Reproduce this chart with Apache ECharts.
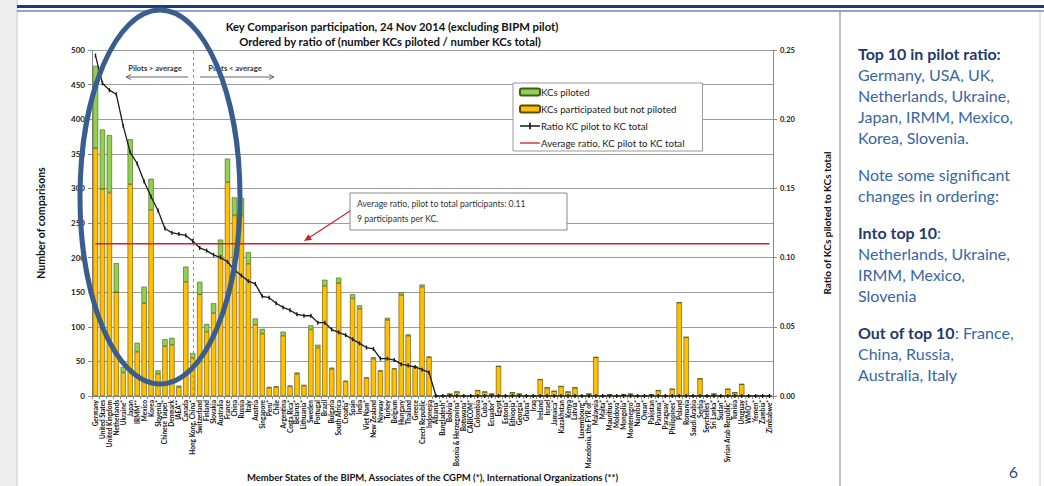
<!DOCTYPE html>
<html><head><meta charset="utf-8">
<script src="https://cdn.jsdelivr.net/npm/echarts@6/dist/echarts.min.js"></script>
<style>html,body{margin:0;padding:0;background:#fff;}#c{width:1044px;height:486px;}</style>
</head><body><div id="c"></div>
<script>
const categories = ["Germany","United States","United Kingdom","Netherlands","Ukraine*","Japan","IRMM**","Mexico","Korea","Slovenia*","Chinese Taipei*","Denmark","IAEA**","Canada","Hong Kong, China*","Switzerland","Finland","Slovakia","Australia","France","China","Russia","Italy","Austria","Singapore","Peru*","Chile","Argentina","Costa Rica*","Belarus*","Lithuania*","Sweden","Portugal","Brazil","Bulgaria","South Africa","Croatia*","Spain","India","Viet Nam*","New Zealand","Norway","Turkey","Belgium","Hungary","Thailand","Greece","Czech Republic","Indonesia","Albania*","Bangladesh*","Bolivia*","Bosnia & Herzegovina*","Botswana*","CARICOM*","Colombia","Cuba*","Ecuador*","Egypt","Estonia*","Ethiopia*","Georgia*","Ghana*","Iraq","Ireland","Israel","Jamaica*","Kazakhstan","Kenya","Latvia*","Luxembourg*","Macedonia, the FYR of*","Malaysia","Malta*","Mauritius*","Moldova*","Mongolia*","Montenegro*","Namibia*","Oman*","Pakistan","Panama*","Paraguay*","Philippines*","Poland","Romania","Saudi Arabia","Serbia","Seychelles*","Sri Lanka*","Sudan*","Syrian Arab Republic*","Tunisia","Uruguay","WMO**","Yemen*","Zambia*","Zimbabwe*"];

const participatedNotPiloted = [358,299,294,150,34,306,64,134,269,32,72,74,13,165,55,147,93,120,203,309,261,261,191,103,90,12,13,87,14,32,15,96,70,159,39,163,21,141,126,26,54,36,110,39,146,87,42,158,56,0,0,3,6,0,0,8,6,3,43,0,5,3,0,0,24,12,7,14,6,12,0,3,56,0,2,0,2,3,0,0,2,8,0,10,135,85,0,25,0,3,0,10,5,17,0,0,0,0];

const piloted = [119,86,83,42,8,65,13,24,45,5,10,10,2,22,7,18,11,14,23,34,26,25,17,9,7,1,1,6,1,2,1,6,4,9,2,8,1,6,5,1,2,1,3,1,4,2,1,3,1,0,0,0,0,0,0,0,0,0,0,0,0,0,0,0,0,0,0,0,0,0,0,0,0,0,0,0,0,0,0,0,0,0,0,0,0,0,0,0,0,0,0,0,0,0,0,0,0,0];

const ratioPilotToTotal = [0.246,0.226,0.221,0.218,0.195,0.176,0.168,0.155,0.144,0.134,0.121,0.118,0.117,0.116,0.112,0.107,0.105,0.102,0.100,0.097,0.091,0.087,0.083,0.081,0.072,0.071,0.067,0.064,0.062,0.059,0.058,0.058,0.053,0.053,0.048,0.046,0.044,0.041,0.038,0.035,0.034,0.027,0.027,0.026,0.023,0.022,0.021,0.019,0.017,0,0,0,0,0,0,0,0,0,0,0,0,0,0,0,0,0,0,0,0,0,0,0,0,0,0,0,0,0,0,0,0,0,0,0,0,0,0,0,0,0,0,0,0,0,0,0,0,0];

const averageRatio = 0.11;
const boundaryCategory = "Hong Kong, China*";
const leftAxis = {min: 0, max: 500, interval: 50};
const rightAxis = {min: 0, max: 0.25, interval: 0.05};

const F = 'Lato, "Liberation Sans", sans-serif';
const chart = echarts.init(document.getElementById('c'), null, {renderer: 'svg'});

const bodyBlue = '#3766a6', headBlue = '#1f3a6b';
const panelLines = [
  {t: '{b|Top 10 in pilot ratio:}', y: 53},
  {t: 'Germany, USA, UK,', y: 74},
  {t: 'Netherlands, Ukraine,', y: 95},
  {t: 'Japan, IRMM, Mexico,', y: 116},
  {t: 'Korea, Slovenia.', y: 137},
  {t: 'Note some significant', y: 174},
  {t: 'changes in ordering:', y: 195},
  {t: '{b|Into top 10}:', y: 232},
  {t: 'Netherlands, Ukraine,', y: 253},
  {t: 'IRMM, Mexico,', y: 274},
  {t: 'Slovenia', y: 295},
  {t: '{b|Out of top 10}: France,', y: 332},
  {t: 'China, Russia,', y: 353},
  {t: 'Australia, Italy', y: 374}
];

const graphics = [
  {type: 'rect', shape: {x: 0, y: 0, width: 17, height: 486}, style: {fill: '#eeeeee'}, silent: true, z: -5},
  {type: 'line', shape: {x1: 17, y1: 0, x2: 17, y2: 486}, style: {stroke: '#c8c8c8', lineWidth: 1}, silent: true},
  {type: 'rect', shape: {x: 17, y: 5, width: 1027, height: 3}, style: {fill: '#1f3a78'}, silent: true},
  {type: 'line', shape: {x1: 17, y1: 11, x2: 1044, y2: 11}, style: {stroke: '#2c4a8c', lineWidth: 1}, silent: true},
  {type: 'line', shape: {x1: 840, y1: 12, x2: 840, y2: 486}, style: {stroke: '#a8a8a8', lineWidth: 1.5}, silent: true},
  {type: 'line', shape: {x1: 1040, y1: 12, x2: 1040, y2: 486}, style: {stroke: '#c8c8c8', lineWidth: 1}, silent: true},
  {type: 'text', x: 392, y: 26, style: {text: 'Key Comparison participation, 24 Nov 2014 (excluding BIPM pilot)', font: 'bold 11.3px ' + F, fill: '#111', align: 'center', verticalAlign: 'middle'}},
  {type: 'text', x: 390, y: 41.5, style: {text: 'Ordered by ratio of (number KCs piloted / number KCs total)', font: 'bold 11.3px ' + F, fill: '#111', align: 'center', verticalAlign: 'middle'}},
  {type: 'text', x: 155, y: 68, style: {text: 'Pilots > average', font: 'bold 7.6px ' + F, fill: '#333', align: 'center', verticalAlign: 'middle'}},
  {type: 'text', x: 235, y: 68, style: {text: 'Pilots < average', font: 'bold 7.6px ' + F, fill: '#333', align: 'center', verticalAlign: 'middle'}},
  {type: 'line', shape: {x1: 188, y1: 77, x2: 126, y2: 77}, style: {stroke: '#666', lineWidth: 1}},
  {type: 'polyline', shape: {points: [[131, 74.5], [126, 77], [131, 79.5]]}, style: {stroke: '#666', lineWidth: 1, fill: null}},
  {type: 'line', shape: {x1: 200, y1: 77, x2: 274, y2: 77}, style: {stroke: '#666', lineWidth: 1}},
  {type: 'polyline', shape: {points: [[269, 74.5], [274, 77], [269, 79.5]]}, style: {stroke: '#666', lineWidth: 1, fill: null}},
  {type: 'rect', shape: {x: 350, y: 193, width: 217, height: 37}, style: {fill: '#fff', stroke: '#8a8a8a', lineWidth: 1}, z: 50},
  {type: 'text', x: 357, y: 203.5, style: {text: 'Average ratio, pilot to total participants: 0.11', font: '8.6px ' + F, fill: '#333', verticalAlign: 'middle'}, z: 51},
  {type: 'text', x: 357, y: 218.5, style: {text: '9 participants per KC.', font: '8.6px ' + F, fill: '#333', verticalAlign: 'middle'}, z: 51},
  {type: 'line', shape: {x1: 350, y1: 211, x2: 309, y2: 237.8}, style: {stroke: '#c0262b', lineWidth: 1.2}, z: 50},
  {type: 'polygon', shape: {points: [[304, 241], [312, 239.8], [308.4, 234.2]]}, style: {fill: '#c0262b'}, z: 50},
  {type: 'ellipse', shape: {cx: 160, cy: 197, rx: 80, ry: 187}, style: {stroke: '#3a5d8f', lineWidth: 5, fill: null}, z: 100, silent: true},
  {type: 'text', x: 1018, y: 471, style: {text: '6', font: '16px ' + F, fill: '#2f4f80', align: 'right', verticalAlign: 'middle'}}
];
panelLines.forEach(p => graphics.push({
  type: 'text', x: 858, y: p.y,
  style: {text: p.t, font: '16px ' + F, fill: bodyBlue, verticalAlign: 'middle',
          rich: {b: {fontWeight: 'bold', fontSize: 16, fontFamily: F, fill: headBlue}}}
}));

const option = {
  animation: false,
  backgroundColor: '#fff',
  textStyle: {fontFamily: F},
  grid: {left: 92, right: 271, top: 50, bottom: 90, containLabel: false, outerBoundsMode: 'none'},
  legend: {
    orient: 'vertical', left: 513, top: 83,
    data: [
      {name: 'KCs piloted'},
      {name: 'KCs participated but not piloted'},
      {name: 'Ratio KC pilot to KC total', icon: 'path://M0,6.2H24V7.8H0Z M11,3H13V11H11Z', itemStyle: {color: '#1a1a1a'}},
      {name: 'Average ratio, KC pilot to KC total', icon: 'path://M0,6.2H24V7.8H0Z', itemStyle: {color: '#d0202a'}}
    ],
    itemWidth: 20, itemHeight: 7, itemGap: 7,
    padding: [4, 18, 3, 6],
    backgroundColor: '#fff', borderColor: '#999', borderWidth: 1,
    textStyle: {fontSize: 9.7, color: '#222', fontFamily: F, padding: [0, 0, 0, -4]},
    z: 60
  },
  xAxis: {
    type: 'category', data: categories,
    axisLine: {lineStyle: {color: '#8a8a8a'}},
    axisTick: {show: true, length: 3, lineStyle: {color: '#8a8a8a'}},
    axisLabel: {interval: 0, rotate: 90, fontSize: 6.5, fontWeight: 'bold', color: '#111', margin: 4, fontFamily: F},
    name: 'Member States of the BIPM, Associates of the CGPM (*), International Organizations (**)',
    nameLocation: 'middle', nameGap: 76, nameMoveOverlap: false,
    nameTextStyle: {fontSize: 9.5, fontWeight: 'bold', color: '#111', fontFamily: F}
  },
  yAxis: [
    {type: 'value', min: leftAxis.min, max: leftAxis.max, interval: leftAxis.interval,
     axisLine: {show: true, lineStyle: {color: '#8a8a8a'}},
     axisTick: {show: true, length: 4, lineStyle: {color: '#8a8a8a'}},
     axisLabel: {fontSize: 8, fontWeight: 'bold', color: '#222', margin: 7},
     splitLine: {lineStyle: {color: '#9c9c9c', width: 1}},
     name: 'Number of comparisons', nameLocation: 'middle', nameGap: 46, nameRotate: 90, nameMoveOverlap: false,
     nameTextStyle: {fontSize: 10.5, fontWeight: 'bold', color: '#111'}},
    {type: 'value', min: rightAxis.min, max: rightAxis.max, interval: rightAxis.interval, position: 'right',
     axisLine: {show: true, lineStyle: {color: '#8a8a8a'}},
     axisTick: {show: true, length: 4, lineStyle: {color: '#8a8a8a'}},
     axisLabel: {fontSize: 7.5, fontWeight: 'bold', color: '#222', margin: 7, formatter: v => v.toFixed(2)},
     splitLine: {show: false},
     name: 'Ratio of KCs piloted to KCs total', nameLocation: 'middle', nameGap: 49, nameRotate: 90, nameMoveOverlap: false,
     nameTextStyle: {fontSize: 10, fontWeight: 'bold', color: '#111'}}
  ],
  series: [
    {name: 'KCs participated but not piloted', type: 'bar', stack: 'kc', data: participatedNotPiloted,
     barCategoryGap: '24%',
     itemStyle: {color: '#FFC000', borderColor: '#5e4a00', borderWidth: 0.6},
     markLine: {silent: true, symbol: 'none', label: {show: false},
       lineStyle: {color: '#9a7fcf', type: [3, 3], width: 1},
       data: [{xAxis: boundaryCategory}]}},
    {name: 'KCs piloted', type: 'bar', stack: 'kc', data: piloted,
     itemStyle: {color: '#92D050', borderColor: '#3f5a1f', borderWidth: 0.6}},
    {name: 'Ratio KC pilot to KC total', type: 'line', yAxisIndex: 1, data: ratioPilotToTotal,
     symbol: 'rect', symbolSize: [1.4, 4], showSymbol: true,
     lineStyle: {color: '#1a1a1a', width: 1.3}, itemStyle: {color: '#1a1a1a'}, z: 5},
    {name: 'Average ratio, KC pilot to KC total', type: 'line', yAxisIndex: 1,
     data: [[categories[0], averageRatio], [categories[categories.length - 1], averageRatio]],
     symbol: 'none', lineStyle: {color: '#d0202a', width: 1.5}, itemStyle: {color: '#d0202a'}, z: 6}
  ],
  graphic: graphics
};
chart.setOption(option);
</script>
</body></html>
